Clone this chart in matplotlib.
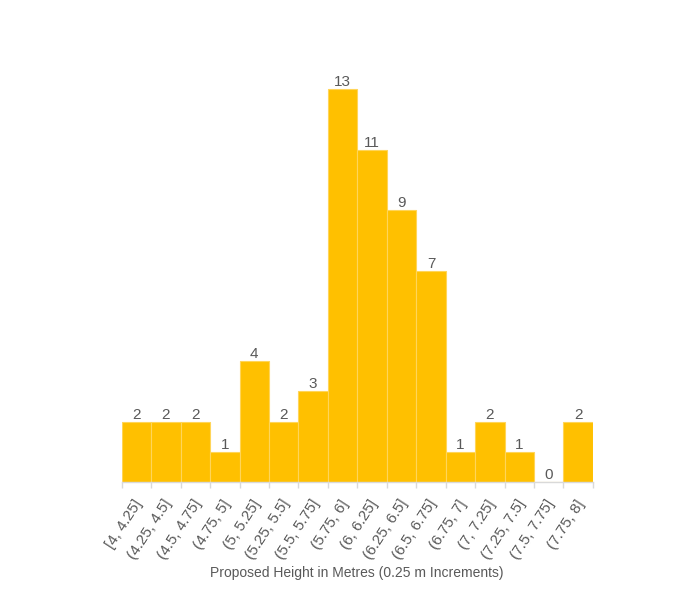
import matplotlib
matplotlib.use("Agg")
import matplotlib.pyplot as plt
import matplotlib.transforms as mtransforms
import numpy as np

categories = ["[4, 4.25]", "(4.25, 4.5]", "(4.5, 4.75]", "(4.75, 5]", "(5, 5.25]",
              "(5.25, 5.5]", "(5.5, 5.75]", "(5.75, 6]", "(6, 6.25]", "(6.25, 6.5]",
              "(6.5, 6.75]", "(6.75, 7]", "(7, 7.25]", "(7.25, 7.5]", "(7.5, 7.75]",
              "(7.75, 8]"]
counts = [2, 2, 2, 1, 4, 2, 3, 13, 11, 9, 7, 1, 2, 1, 0, 2]
xlabel = "Proposed Height in Metres (0.25 m Increments)"

plt.rcParams['font.family'] = ['Liberation Sans', 'DejaVu Sans']
fig = plt.figure(figsize=(7, 6), dpi=100)
ax = fig.add_axes([0.174, 0.1967, 0.673, 0.7047])

x = np.arange(len(categories))
ax.bar(x, counts, width=1.0, color="#FFC000", edgecolor="#FFD559", linewidth=0.8)
for xi, v in zip(x, counts):
    ax.text(xi, v + 0.1, str(v), ha="center", va="baseline", fontsize=11, color="#595959")

ax.set_xlim(-0.5, len(categories) - 0.5)
ax.set_ylim(0, 14)
for s in ["top", "right", "left"]:
    ax.spines[s].set_visible(False)
ax.spines["bottom"].set_color("#D9D9D9")
ax.spines["bottom"].set_linewidth(1.0)
ax.set_yticks([])
ax.set_xticks(x)
ax.set_xticklabels(categories, rotation=57, ha="right", rotation_mode="anchor",
                   fontsize=11, color="#595959")
ax.tick_params(axis="x", which="major", length=0, pad=11)
offset = mtransforms.ScaledTranslation(-3 / 100, 0, fig.dpi_scale_trans)
for lab in ax.get_xticklabels():
    lab.set_transform(lab.get_transform() + offset)
ax.set_xticks(np.arange(-0.5, len(categories)), minor=True)
ax.tick_params(axis="x", which="minor", length=4, color="#D9D9D9", width=1.0)
fig.text(0.51, 0.045, xlabel, ha="center", va="center", fontsize=10, color="#595959")

fig.savefig("out.png", dpi=100)
